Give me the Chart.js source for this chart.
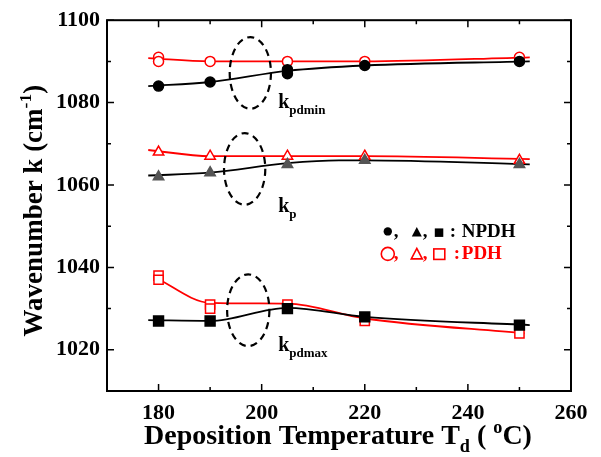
<!DOCTYPE html>
<html>
<head>
<meta charset="utf-8">
<script src="https://cdn.jsdelivr.net/npm/chart.js@4"></script>
<style>
  html, body { margin: 0; padding: 0; background: #fff; }
  #wrap { width: 601px; height: 457px; }
</style>
</head>
<body>
<div id="wrap"><canvas id="chart" width="601" height="457"></canvas></div>
<script>
// measured points (temperature in C, wavenumber in cm-1)
const minNpdhT = [180, 190, 205, 205, 220, 250];
const minNpdh  = [1084, 1085, 1088, 1087, 1089, 1090];
const minPdhT  = [180, 180, 190, 205, 220, 250];
const minPdh   = [1091, 1090, 1090, 1090, 1090, 1091];

const kpNpdhT = [180, 190, 205, 220, 250];
const kpNpdh  = [1062, 1063, 1065, 1066, 1065];
const kpPdhT  = [180, 190, 205, 220, 250];
const kpPdh   = [1068, 1067, 1067, 1067, 1066];

const maxNpdhT = [180, 190, 205, 220, 250];
const maxNpdh  = [1027, 1027, 1030, 1028, 1026];
const maxPdhT  = [180, 180, 190, 190, 205, 220, 250];
const maxPdh   = [1038, 1037, 1031, 1030, 1031, 1027, 1024];

// guide curves drawn through the points
const fitMinNpdhT = [178, 190, 205, 220, 252];
const fitMinNpdh  = [1084, 1085, 1087.7, 1089, 1090];
const fitMinPdhT  = [178, 190, 205, 220, 252];
const fitMinPdh   = [1090.8, 1090, 1090, 1090, 1091];
const fitKpNpdhT  = [178, 190, 205, 215, 220, 252];
const fitKpNpdh   = [1062.3, 1063, 1065.3, 1066, 1066, 1065];
const fitKpPdhT   = [178, 190, 205, 220, 252];
const fitKpPdh    = [1068.5, 1067, 1067, 1067, 1066.3];
const fitMaxNpdhT = [178, 190, 205, 220, 252];
const fitMaxNpdh  = [1027.2, 1027, 1030.2, 1028, 1026];
const fitMaxPdhT  = [179, 190, 205, 220, 251];
const fitMaxPdh   = [1037.8, 1031.4, 1031.2, 1027.6, 1024];

// dashed ellipses: [centre T, centre k, half width (C), half height (cm-1)]
const ellipses = [
    [197.8, 1087.2, 4.0, 8.7],
    [196.7, 1063.9, 4.0, 8.7],
    [197.4, 1029.6, 4.1, 8.7]
];
// group labels: [T, k, main, subscript]
const groupLabels = [
    [203.2, 1078.6, 'k', 'pdmin'],
    [203.2, 1053.4, 'k', 'p'],
    [203.2, 1019.7, 'k', 'pdmax']
];
// legend anchor (T, k of first baseline) and names
const legendAt = [223.3, 1047.4];
const legendNames = ['NPDH', 'PDH'];

const xTickLabels = [180, 200, 220, 240, 260];
const yTickLabels = [1020, 1040, 1060, 1080, 1100];

const FONT = '"Liberation Serif", "Times New Roman", serif';

function pts(xs, ys) {
    return xs.map((x, i) => ({ x: x, y: ys[i] }));
}

function markers(xs, ys, style, fill, border, r) {
    return {
        data: pts(xs, ys),
        showLine: false,
        pointStyle: style,
        pointRadius: r,
        pointBackgroundColor: fill,
        pointBorderColor: border,
        pointBorderWidth: 1.5
    };
}

function curve(xs, ys, color) {
    return {
        data: pts(xs, ys),
        showLine: true,
        borderColor: color,
        borderWidth: 1.8,
        pointRadius: 0,
        cubicInterpolationMode: 'monotone'
    };
}

// draw text made of normal / sub / superscript pieces
function richText(ctx, parts, x, y, size, align) {
    const widths = parts.map(p => {
        ctx.font = 'bold ' + (p[1] ? size * 0.65 : size) + 'px ' + FONT;
        return ctx.measureText(p[0]).width;
    });
    const total = widths.reduce((a, b) => a + b, 0);
    let cx = align === 'center' ? x - total / 2 : x;
    parts.forEach((p, i) => {
        ctx.font = 'bold ' + (p[1] ? size * 0.65 : size) + 'px ' + FONT;
        let dy = 0;
        if (p[1] === -1) dy = size * 0.28;
        if (p[1] === 1) dy = -size * 0.4;
        ctx.fillText(p[0], cx, y + dy);
        cx += widths[i];
    });
}

function legendRow(ctx, x, y, color, filled, name) {
    ctx.fillStyle = color;
    ctx.strokeStyle = color;
    ctx.lineWidth = 1.6;
    const paint = () => { if (filled) ctx.fill(); else ctx.stroke(); };
    const r = filled ? 4.2 : 6.5;
    // circle
    ctx.beginPath();
    ctx.arc(x + 6, y - 5.5, r, 0, Math.PI * 2);
    paint();
    // triangle
    const th = filled ? 10 : 11, tw = filled ? 10 : 11;
    ctx.beginPath();
    ctx.moveTo(x + 35, y - th);
    ctx.lineTo(x + 35 + tw / 2, y - 0.5);
    ctx.lineTo(x + 35 - tw / 2, y - 0.5);
    ctx.closePath();
    paint();
    // square
    if (filled) ctx.fillRect(x + 53, y - 8.5, 8.5, 8.5);
    else ctx.strokeRect(x + 52, y - 10.5, 11, 10.5);
    ctx.font = 'bold 19px ' + FONT;
    ctx.fillText(',', x + 12, y);
    ctx.fillText(',', x + 41, y);
    ctx.fillText(':', x + (filled ? 68 : 72), y);
    ctx.fillText(name, x + 80, y);
}

const decor = {
    id: 'decor',
    afterDraw(chart) {
        const ctx = chart.ctx;
        const a = chart.chartArea;
        const xs = chart.scales.x, ys = chart.scales.y;
        ctx.save();
        ctx.strokeStyle = '#000';
        ctx.fillStyle = '#000';

        // frame
        ctx.lineWidth = 2;
        ctx.strokeRect(a.left, a.top, a.right - a.left, a.bottom - a.top);

        // inward ticks on all four sides
        ctx.lineWidth = 1.5;
        for (let v = 170; v <= 260; v += 10) {
            const px = xs.getPixelForValue(v);
            const len = v % 20 === 0 ? 7 : 4;
            ctx.beginPath();
            ctx.moveTo(px, a.bottom); ctx.lineTo(px, a.bottom - len);
            ctx.moveTo(px, a.top); ctx.lineTo(px, a.top + len);
            ctx.stroke();
        }
        for (let v = 1010; v <= 1100; v += 10) {
            const py = ys.getPixelForValue(v);
            const len = v % 20 === 0 ? 7 : 4;
            ctx.beginPath();
            ctx.moveTo(a.left, py); ctx.lineTo(a.left + len, py);
            ctx.moveTo(a.right, py); ctx.lineTo(a.right - len, py);
            ctx.stroke();
        }

        // dashed ellipses
        ctx.lineWidth = 2.2;
        ctx.setLineDash([7, 5]);
        ellipses.forEach(e => {
            const cx = xs.getPixelForValue(e[0]);
            const cy = ys.getPixelForValue(e[1]);
            const rx = Math.abs(xs.getPixelForValue(e[0] + e[2]) - cx);
            const ry = Math.abs(ys.getPixelForValue(e[1] + e[3]) - cy);
            ctx.beginPath();
            ctx.ellipse(cx, cy, rx, ry, 0, 0, Math.PI * 2);
            ctx.stroke();
        });
        ctx.setLineDash([]);

        // group labels
        ctx.textBaseline = 'alphabetic';
        ctx.textAlign = 'left';
        groupLabels.forEach(g => {
            richText(ctx, [[g[2], 0], [g[3], -1]],
                xs.getPixelForValue(g[0]), ys.getPixelForValue(g[1]), 20, 'left');
        });

        // legend
        const lx = xs.getPixelForValue(legendAt[0]);
        const ly = ys.getPixelForValue(legendAt[1]);
        legendRow(ctx, lx, ly, '#000', true, legendNames[0]);
        legendRow(ctx, lx, ly + 22.5, '#ff0000', false, legendNames[1]);

        // axis titles
        ctx.fillStyle = '#000';
        richText(ctx, [['Deposition Temperature T', 0], ['d', -1], [' ( ', 0], ['o', 1], ['C)', 0]],
            (a.left + a.right) / 2 - 1, 444, 28, 'center');
        ctx.translate(42, (a.top + a.bottom) / 2 + 5);
        ctx.rotate(-Math.PI / 2);
        richText(ctx, [['Wavenumber k (cm', 0], ['-1', 1], [')', 0]], 0, 0, 27, 'center');
        ctx.restore();
    }
};

new Chart(document.getElementById('chart'), {
    type: 'scatter',
    data: {
        datasets: [
            markers(minNpdhT, minNpdh, 'circle', '#000', '#000', 5),
            markers(minPdhT, minPdh, 'circle', '#fff', '#ff0000', 5),
            markers(kpNpdhT, kpNpdh, 'triangle', '#555', '#555', 6),
            markers(kpPdhT, kpPdh, 'triangle', '#fff', '#ff0000', 6),
            markers(maxNpdhT, maxNpdh, 'rect', '#000', '#000', 7),
            markers(maxPdhT, maxPdh, 'rect', '#fff', '#ff0000', 6.5),
            curve(fitMinNpdhT, fitMinNpdh, '#000'),
            curve(fitMinPdhT, fitMinPdh, '#ff0000'),
            curve(fitKpNpdhT, fitKpNpdh, '#000'),
            curve(fitKpPdhT, fitKpPdh, '#ff0000'),
            curve(fitMaxNpdhT, fitMaxNpdh, '#000'),
            curve(fitMaxPdhT, fitMaxPdh, '#ff0000')
        ]
    },
    options: {
        responsive: false,
        animation: false,
        layout: { padding: { top: 18, right: 30, left: 0, bottom: 0 } },
        scales: {
            x: {
                type: 'linear',
                min: 170,
                max: 260,
                afterBuildTicks: s => { s.ticks = xTickLabels.map(v => ({ value: v })); },
                afterFit: s => { s.height = 66; },
                grid: { display: false, drawTicks: false },
                border: { display: false },
                ticks: {
                    color: '#000',
                    padding: 9,
                    maxRotation: 0,
                    autoSkip: false,
                    callback: v => String(v),
                    font: { family: FONT, size: 22, weight: 'bold' }
                }
            },
            y: {
                type: 'linear',
                min: 1010,
                max: 1100,
                afterBuildTicks: s => { s.ticks = yTickLabels.map(v => ({ value: v })); },
                afterFit: s => { s.width = 107; },
                grid: { display: false, drawTicks: false },
                border: { display: false },
                ticks: {
                    color: '#000',
                    padding: 7,
                    autoSkip: false,
                    callback: v => String(v),
                    font: { family: FONT, size: 22, weight: 'bold' }
                }
            }
        },
        plugins: {
            legend: { display: false },
            tooltip: { enabled: false }
        }
    },
    plugins: [decor]
});
</script>
</body>
</html>
